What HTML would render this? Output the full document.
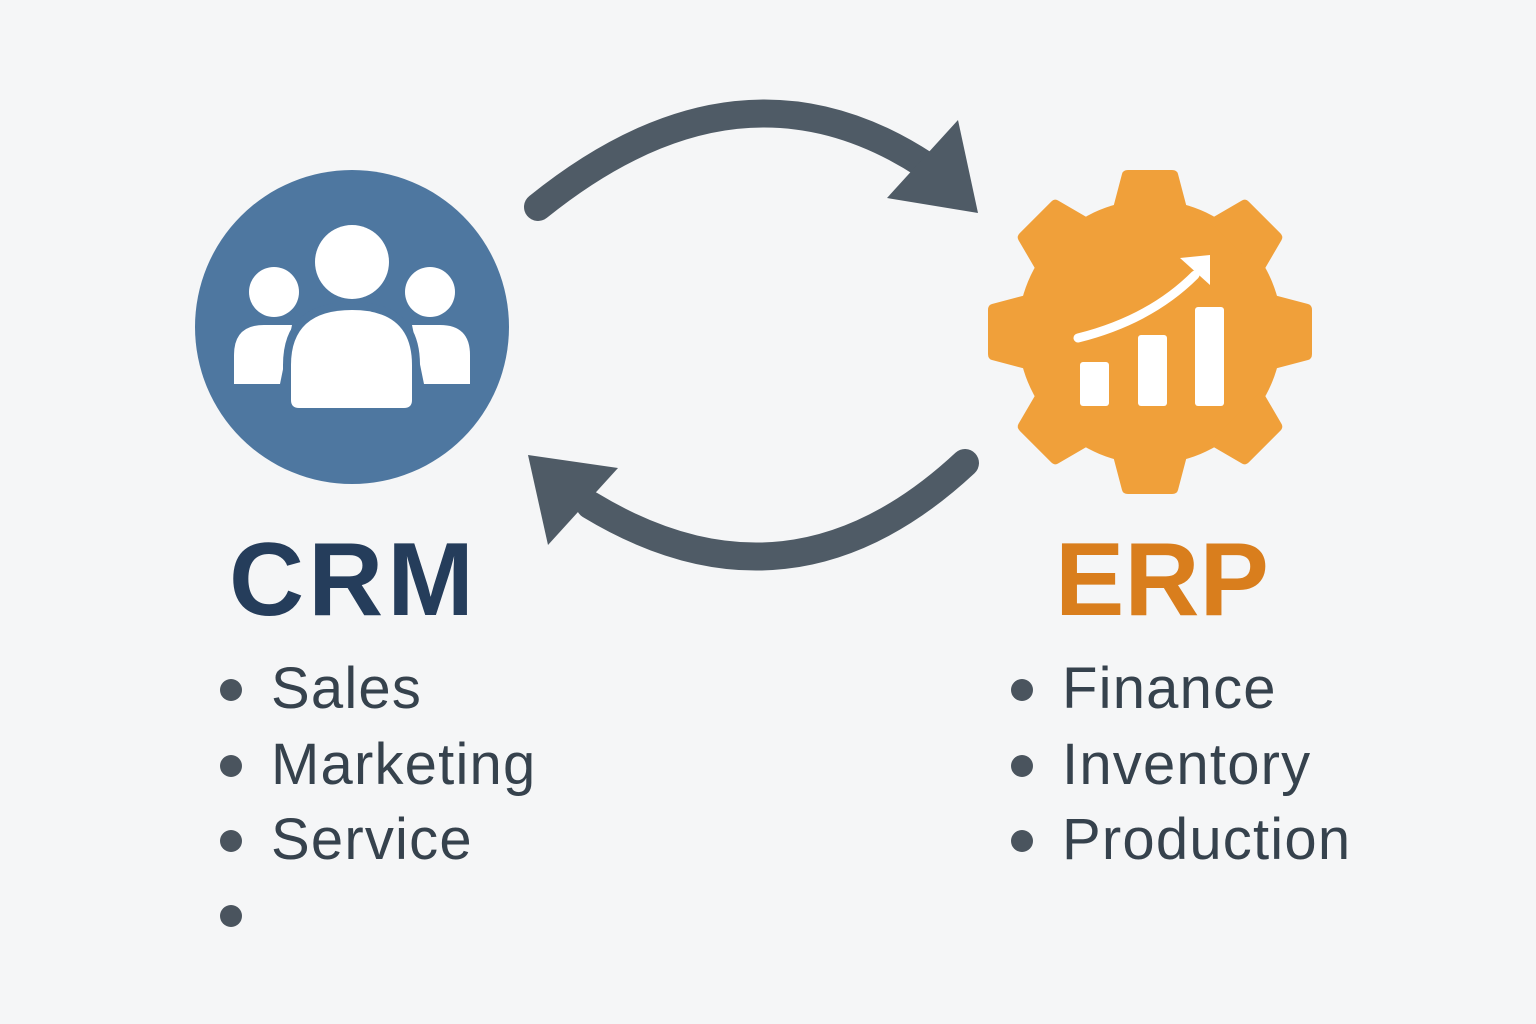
<!DOCTYPE html>
<html><head><meta charset="utf-8"><style>
html,body{margin:0;padding:0;background:#f5f6f7;}
body{width:1536px;height:1024px;position:relative;overflow:hidden;font-family:"Liberation Sans",sans-serif;}
.t{position:absolute;font-weight:bold;font-size:104px;line-height:1;}
.li{position:absolute;font-size:58px;color:#36424d;line-height:1;letter-spacing:1.2px;}
.dot{position:absolute;width:22px;height:22px;border-radius:50%;background:#4a545e;}
</style></head><body>
<svg width="1536" height="1024" style="position:absolute;left:0;top:0">
  <path d="M538 207 Q740 44 925 165" fill="none" stroke="#4f5b66" stroke-width="28" stroke-linecap="round"/>
  <polygon points="978,213 887,198 958,120" fill="#4f5b66"/>
  <path d="M965 463 Q790 626 590 505" fill="none" stroke="#4f5b66" stroke-width="28" stroke-linecap="round"/>
  <polygon points="528,455 618,468 548,545" fill="#4f5b66"/>
  <circle cx="352" cy="327" r="157" fill="#4e77a0"/>
  <circle cx="274" cy="292" r="25" fill="#fff"/>
  <circle cx="430" cy="292" r="25" fill="#fff"/>
  <path d="M234 384 L234 355 Q234 325 264 325 L292 325 L280 384 Z" fill="#fff"/>
  <path d="M470 384 L470 355 Q470 325 440 325 L412 325 L424 384 Z" fill="#fff"/>
  <path d="M283 412 L283 365 Q283 302 352 302 Q420 302 420 365 L420 412 Z" fill="#4e77a0"/>
  <path d="M291 400 L291 365 Q291 310 352 310 Q412 310 412 365 L412 400 Q412 408 404 408 L299 408 Q291 408 291 400 Z" fill="#fff"/>
  <circle cx="352" cy="262" r="37" fill="#fff"/>
  <g transform="translate(1150,332)" fill="#f0a03a">
    <circle r="132"/>
    <g id="tooth"><path d="M-38 -120 L-28 -158 Q-27 -162 -22 -162 L22 -162 Q27 -162 28 -158 L38 -120 Z"/></g>
    <use href="#tooth" transform="rotate(45)"/>
    <use href="#tooth" transform="rotate(90)"/>
    <use href="#tooth" transform="rotate(135)"/>
    <use href="#tooth" transform="rotate(180)"/>
    <use href="#tooth" transform="rotate(225)"/>
    <use href="#tooth" transform="rotate(270)"/>
    <use href="#tooth" transform="rotate(315)"/>
  </g>
  <rect x="1080" y="362" width="29" height="44" rx="3" fill="#fff"/>
  <rect x="1138" y="335" width="29" height="71" rx="3" fill="#fff"/>
  <rect x="1195" y="307" width="29" height="99" rx="3" fill="#fff"/>
  <path d="M1078 338 Q1150 320 1195 275" fill="none" stroke="#fff" stroke-width="9" stroke-linecap="round"/>
  <polygon points="1210,255 1210,285 1180,258" fill="#fff"/>
</svg>
<div class="t" style="left:229px;top:528px;color:#253d5b;letter-spacing:4px;">CRM</div>
<div class="t" style="left:1055px;top:528px;color:#d97e1d;">ERP</div>
<div class="dot" style="left:220px;top:679px"></div>
<div class="dot" style="left:220px;top:755px"></div>
<div class="dot" style="left:220px;top:830px"></div>
<div class="dot" style="left:220px;top:905px"></div>
<div class="li" style="left:271px;top:660px">Sales</div>
<div class="li" style="left:271px;top:736px">Marketing</div>
<div class="li" style="left:271px;top:811px">Service</div>
<div class="dot" style="left:1011px;top:679px"></div>
<div class="dot" style="left:1011px;top:755px"></div>
<div class="dot" style="left:1011px;top:830px"></div>
<div class="li" style="left:1062px;top:660px">Finance</div>
<div class="li" style="left:1062px;top:736px">Inventory</div>
<div class="li" style="left:1062px;top:811px">Production</div>
</body></html>
